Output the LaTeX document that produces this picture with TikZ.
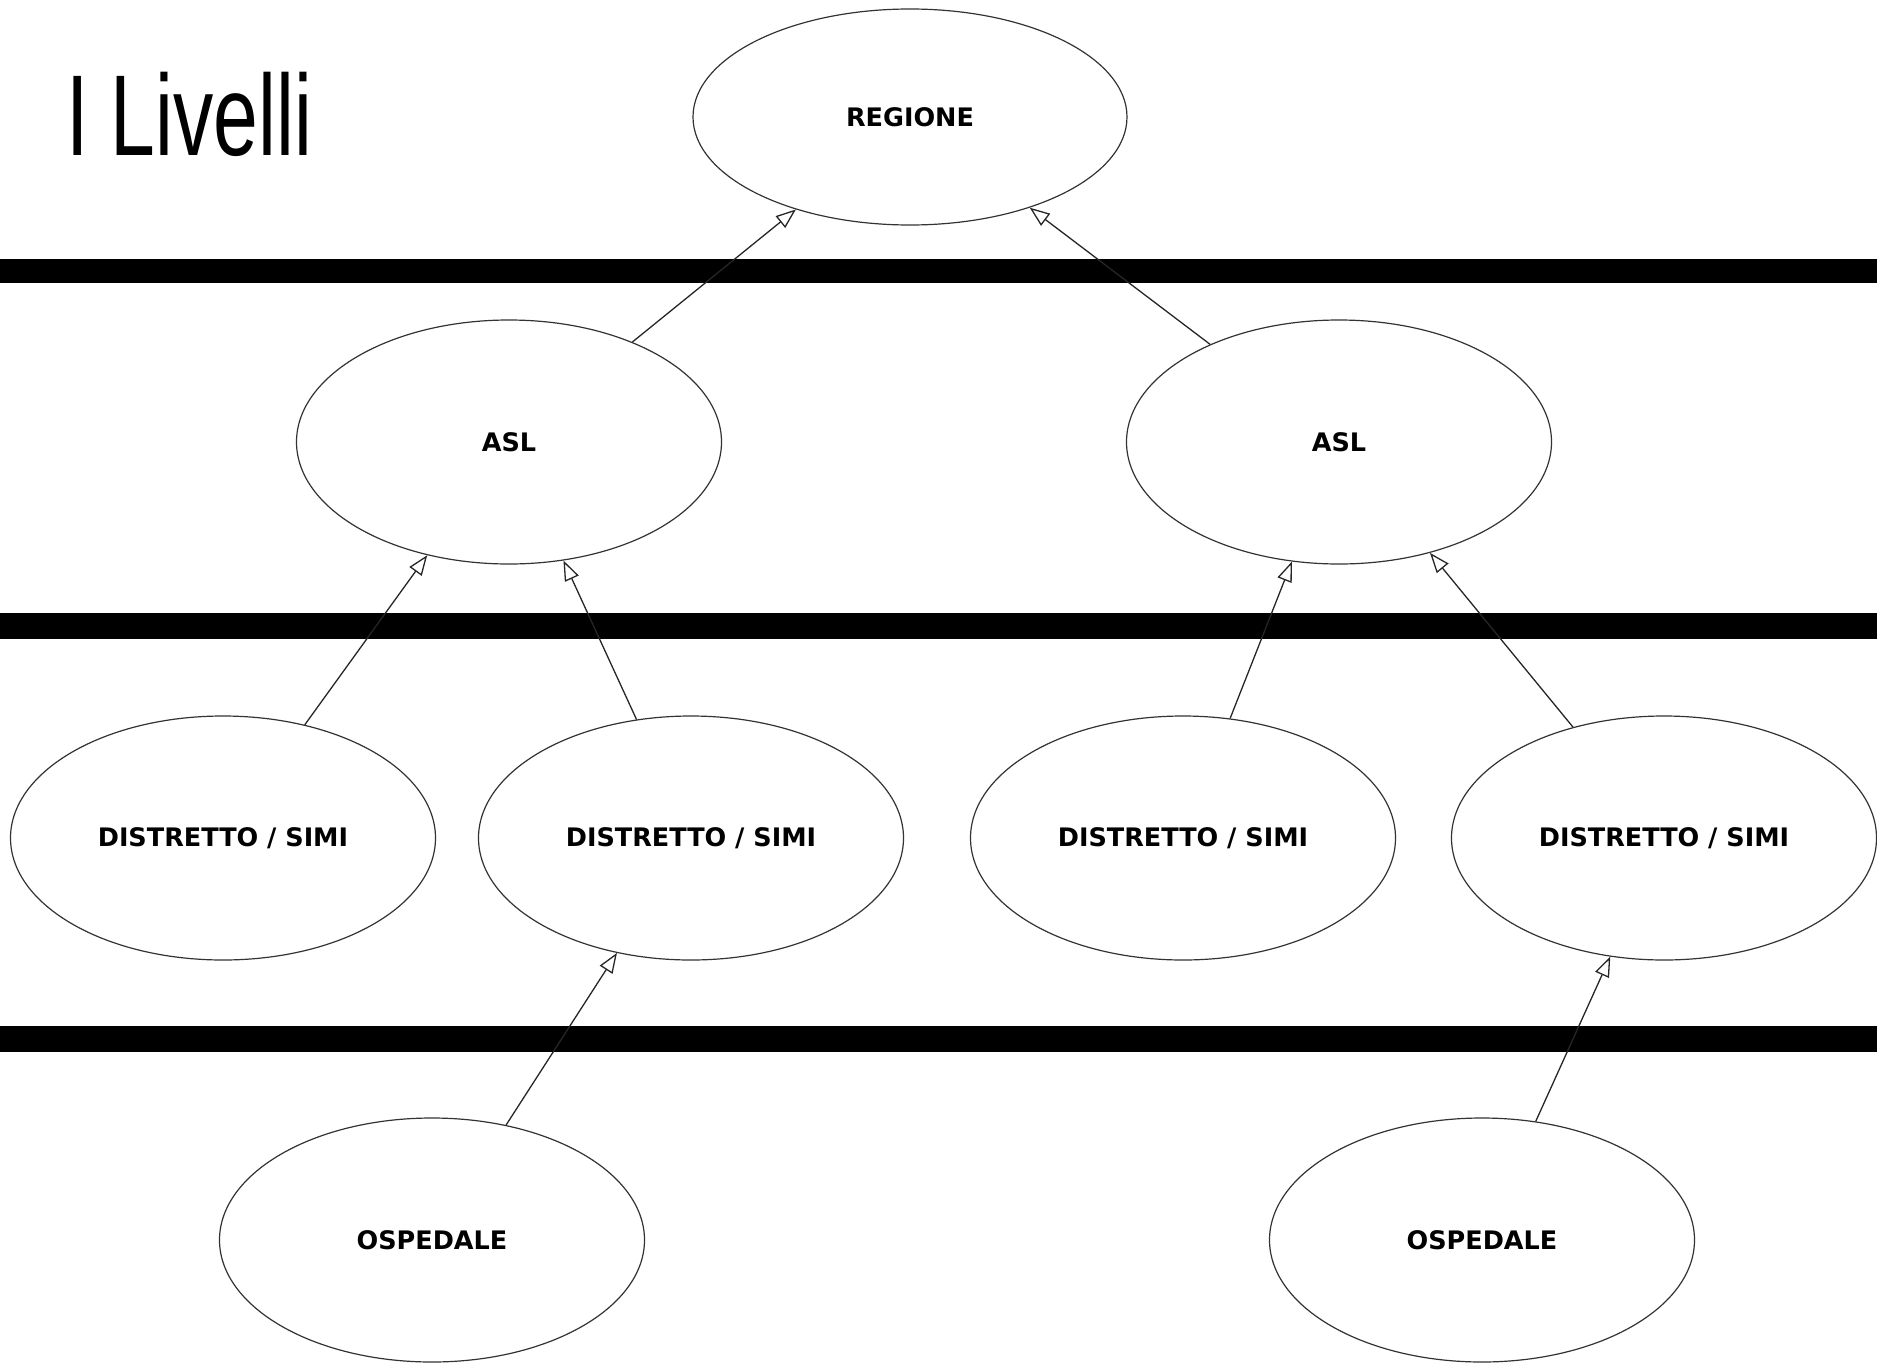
\documentclass[tikz,border=0pt]{standalone}
\usepackage{fontspec}
\setmainfont{DejaVu Sans}
\newfontfamily\titlefont[FakeStretch=0.7]{Liberation Sans}
\usetikzlibrary{shapes.geometric,arrows.meta}
\begin{document}
\begin{tikzpicture}[x=1pt,y=-1pt]
\tikzset{livello/.style={ellipse,draw=black!80,line width=1.2pt,minimum width=425pt,minimum height=244pt,inner sep=0,font=\fontsize{25.5}{28}\selectfont\bfseries},
  freccia/.style={-{Triangle[open,length=20pt,width=15pt]},line width=1.3pt,draw=black!85}}
\useasboundingbox (0,0) rectangle (1877,1365);

    % barre tra i livelli
    \fill (0,259) rectangle (1877,283);
    \fill (0,613) rectangle (1877,639);
    \fill (0,1026) rectangle (1877,1052);

    \node[anchor=base west,inner sep=0,font=\titlefont\fontsize{115}{115}\selectfont] (titolo) at (66,155) {I Livelli};

    \node[livello,minimum width=434pt,minimum height=216pt] (reg) at (910,117) {REGIONE};
    \node[livello] (asl1) at (509,442) {ASL};
    \node[livello] (asl2) at (1339,442) {ASL};
    \node[livello] (d1) at (223,838) {DISTRETTO / SIMI};
    \node[livello] (d2) at (691,838) {DISTRETTO / SIMI};
    \node[livello] (d3) at (1183,838) {DISTRETTO / SIMI};
    \node[livello] (d4) at (1664,838) {DISTRETTO / SIMI};
    \node[livello] (o1) at (432,1240) {OSPEDALE};
    \node[livello] (o2) at (1482,1240) {OSPEDALE};

    \draw[freccia] (asl1) -- (reg);
    \draw[freccia] (asl2) -- (reg);
    \draw[freccia] (d1) -- (asl1);
    \draw[freccia] (d2) -- (asl1);
    \draw[freccia] (d3) -- (asl2);
    \draw[freccia] (d4) -- (asl2);
    \draw[freccia] (o1) -- (d2);
    \draw[freccia] (o2) -- (d4);
\end{tikzpicture}
\end{document}
